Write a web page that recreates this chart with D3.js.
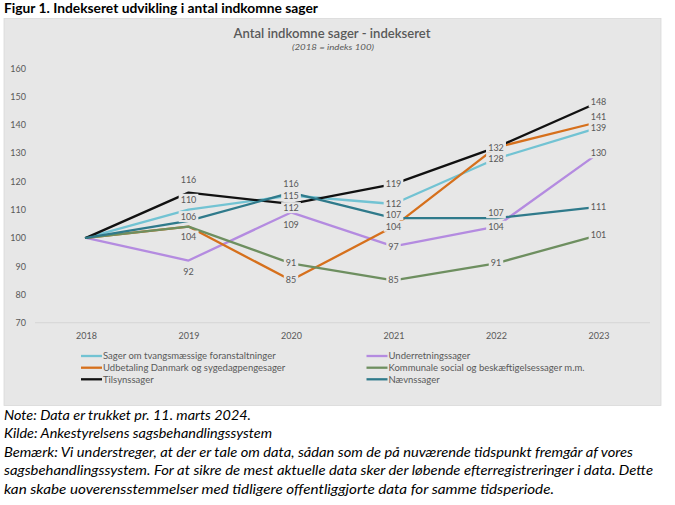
<!DOCTYPE html>
<html>
<head>
<meta charset="utf-8">
<script src="https://cdn.jsdelivr.net/npm/d3@7"></script>
<style>
  body { margin: 0; background: #fff; }
  svg { display: block; }
  text { font-family: Lato, "Open Sans", sans-serif; }
</style>
</head>
<body>
<svg id="chart" width="675" height="505"></svg>
<script>
// data (2018 = index 100)
const years = [2018, 2019, 2020, 2021, 2022, 2023];
const yTicks = [70, 80, 90, 100, 110, 120, 130, 140, 150, 160];

const tvang = [100, 110, 115, 112, 128, 139];
const underret = [100, 92, 109, 97, 104, 130];
const udbetaling = [100, 104, 85, 104, 132, 141];
const kommunale = [100, 104, 91, 85, 91, 101];
const tilsyn = [100, 116, 112, 119, 132, 148];
const naevns = [100, 106, 116, 107, 107, 111];

const seriesNames = [
  "Sager om tvangsmæssige foranstaltninger",
  "Underretningssager",
  "Udbetaling Danmark og sygedagpengesager",
  "Kommunale social og beskæftigelsessager m.m.",
  "Tilsynssager",
  "Nævnssager"
];
const seriesValues = [tvang, underret, udbetaling, kommunale, tilsyn, naevns];

const notes = [
  "Note: Data er trukket pr. 11. marts 2024.",
  "Kilde: Ankestyrelsens sagsbehandlingssystem",
  "Bemærk: Vi understreger, at der er tale om data, sådan som de på nuværende tidspunkt fremgår af vores",
  "sagsbehandlingssystem. For at sikre de mest aktuelle data sker der løbende efterregistreringer i data. Dette",
  "kan skabe uoverensstemmelser med tidligere offentliggjorte data for samme tidsperiode."
];

// styling: colour + vertical label shift per point (null = no label)
const styles = [
  { color: "#72c3d3", labelDy: [null, -10, 0, 0, 0, 0] },
  { color: "#b48be0", labelDy: [null, 11, 12, 0, 0, 0] },
  { color: "#d6701c", labelDy: [null, 10, 0, 0, 0, -5] },
  { color: "#6e8f60", labelDy: [null, 10, 0, 0, 0, 0] },
  { color: "#111111", labelDy: [null, -13, 4, 0, 0, 0] },
  { color: "#2f7a8b", labelDy: [null, -4, -9, -3, -5, 0] }
];

const series = seriesNames.map((name, i) => ({
  name,
  values: seriesValues[i],
  ...styles[i]
}));

const bg = "#e7e7e7";
const grey = "#595959";
const svg = d3.select("#chart");

// figure title
svg.append("text")
  .attr("x", 4).attr("y", 12.5)
  .attr("font-size", 14).attr("font-weight", "bold")
  .attr("fill", "#000")
  .attr("textLength", 314).attr("lengthAdjust", "spacingAndGlyphs")
  .text("Figur 1. Indekseret udvikling i antal indkomne sager");

// chart area
svg.append("rect")
  .attr("x", 4).attr("y", 18.5)
  .attr("width", 657).attr("height", 387)
  .attr("fill", bg).attr("stroke", "#d9d9d9").attr("stroke-width", 0.8);

svg.append("text")
  .attr("x", 332).attr("y", 38.3)
  .attr("text-anchor", "middle")
  .attr("font-size", 12.5).attr("font-weight", 600)
  .attr("fill", grey)
  .attr("textLength", 197).attr("lengthAdjust", "spacingAndGlyphs")
  .text("Antal indkomne sager - indekseret");

svg.append("text")
  .attr("x", 333).attr("y", 49.5)
  .attr("text-anchor", "middle")
  .attr("font-size", 8.5).attr("font-style", "italic")
  .attr("fill", grey)
  .attr("textLength", 82).attr("lengthAdjust", "spacingAndGlyphs")
  .text("(2018 = indeks 100)");

const x = d3.scalePoint().domain(years).range([86, 598.5]);
const y = d3.scaleLinear().domain([70, 160]).range([322.7, 68.3]);

// y axis labels (no gridlines in the original)
const yAxis = svg.append("g")
  .attr("transform", "translate(26,0)")
  .call(d3.axisLeft(y).tickValues(yTicks).tickSize(0).tickPadding(0));
yAxis.select(".domain").remove();
yAxis.selectAll("text")
  .attr("font-size", 9).attr("fill", grey)
  .style("font-family", "Lato, sans-serif");

// x axis
const xAxis = svg.append("g")
  .attr("transform", `translate(0,${y(70)})`)
  .call(d3.axisBottom(x).tickSize(0).tickPadding(10));
xAxis.select(".domain")
  .attr("d", `M35,0H650`)
  .attr("stroke", "#d6d6d6").attr("stroke-width", 1);
xAxis.selectAll("text")
  .attr("font-size", 9).attr("fill", grey)
  .style("font-family", "Lato, sans-serif");

// lines
const line = d3.line()
  .x((d, i) => x(years[i]))
  .y(d => y(d));

svg.append("g")
  .selectAll("path")
  .data(series)
  .join("path")
  .attr("d", d => line(d.values))
  .attr("fill", "none")
  .attr("stroke", d => d.color)
  .attr("stroke-width", 2.3)
  .attr("stroke-linejoin", "round")
  .attr("stroke-linecap", "round");

// data labels with background box (covers the lines, like the Excel original)
const labelPts = [];
series.forEach(s => {
  s.values.forEach((v, i) => {
    if (s.labelDy[i] === null) return;
    labelPts.push({ v, year: years[i], dy: s.labelDy[i] });
  });
});

const labels = svg.append("g")
  .selectAll("g")
  .data(labelPts)
  .join("g")
  .attr("transform", d => `translate(${x(d.year)},${y(d.v) + d.dy})`);

labels.append("rect")
  .attr("fill", bg);

labels.append("text")
  .attr("text-anchor", "middle")
  .attr("dy", "0.35em")
  .attr("font-size", 9)
  .attr("fill", grey)
  .text(d => d.v);

labels.each(function () {
  const g = d3.select(this);
  const b = g.select("text").node().getBBox();
  g.select("rect")
    .attr("x", b.x - 2).attr("y", b.y)
    .attr("width", b.width + 4).attr("height", b.height);
});

// legend, two columns filled row by row
const legendCols = [81, 366.5];
const legendRows = [356, 367.7, 379.3];

const legend = svg.append("g")
  .selectAll("g")
  .data(series)
  .join("g")
  .attr("transform", (d, i) => `translate(${legendCols[i % 2]},${legendRows[Math.floor(i / 2)]})`);

legend.append("line")
  .attr("x1", 0).attr("x2", 21)
  .attr("stroke", d => d.color)
  .attr("stroke-width", 2.3);

legend.append("text")
  .attr("x", 22).attr("dy", "0.35em")
  .attr("font-size", 9.5)
  .attr("fill", grey)
  .text(d => d.name);

// notes below the chart
const noteWidths = [247, 268, 629, 649, 550];
svg.append("g")
  .selectAll("text")
  .data(notes)
  .join("text")
  .attr("x", 4)
  .attr("y", (d, i) => 419.5 + i * 18.6)
  .attr("font-size", 12.5)
  .attr("font-style", "italic")
  .attr("fill", "#000")
  .attr("textLength", (d, i) => noteWidths[i])
  .attr("lengthAdjust", "spacingAndGlyphs")
  .text(d => d);
</script>
</body>
</html>
